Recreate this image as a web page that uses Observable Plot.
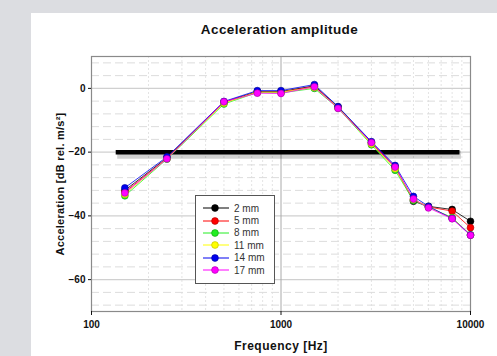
<!DOCTYPE html>
<html>
<head>
<meta charset="utf-8">
<script src="https://cdn.jsdelivr.net/npm/d3@7"></script>
<script src="https://cdn.jsdelivr.net/npm/@observablehq/plot@0.6"></script>
<style>
  html, body { margin: 0; padding: 0; }
  body { width: 497px; height: 356px; background: #dcdde1; position: relative; overflow: hidden;
         font-family: "Liberation Sans", Arial, sans-serif; }
  #panel { position: absolute; left: 31px; top: 13px; right: 0; bottom: 0; background: #fff; }
  #chart { position: absolute; left: 0; top: 0; }
  #title { position: absolute; left: 179.5px; width: 200px; top: 22px; text-align: center;
           font-weight: bold; font-size: 13.5px; letter-spacing: 0.4px; color: #111; }
  #legend { position: absolute; left: 195px; top: 195px; width: 80px; height: 89px;
            border: 1px solid #555; background: #fff; box-sizing: border-box; padding-top: 6px; }
  .item { height: 12.4px; display: flex; align-items: center; font-size: 10px; color: #333; }
  .item svg { margin-left: 7px; margin-right: 5px; }
</style>
</head>
<body>
<div id="panel"></div>
<div id="chart"></div>
<div id="title">Acceleration amplitude</div>
<div id="legend"></div>
<script>
const freqs = [150, 250, 500, 750, 1000, 1500, 2000, 3000, 4000, 5000, 6000, 8000, 10000];
const s2mm  = [-32.0, -21.8, -4.3, -1.0, -1.0, 0.8, -5.8, -17.0, -24.6, -35.4, -37.0, -38.0, -41.7];
const s5mm  = [-32.5, -22.0, -4.4, -1.2, -1.2, 0.6, -6.0, -17.2, -24.8, -35.0, -37.2, -38.5, -43.7];
const s8mm  = [-33.7, -22.2, -4.9, -1.3, -1.4, 0.0, -6.2, -17.7, -25.7, -35.2, -37.3, -40.5, -46.0];
const s11mm = [-33.2, -22.0, -4.6, -1.2, -1.2, 0.3, -6.0, -17.4, -25.2, -34.8, -37.2, -40.7, -46.0];
const s14mm = [-31.2, -21.5, -4.1, -0.7, -0.7, 1.2, -5.7, -16.7, -24.2, -33.9, -37.0, -40.8, -46.0];
const s17mm = [-32.8, -22.1, -4.2, -1.5, -1.6, 0.5, -6.3, -17.0, -24.7, -34.7, -37.5, -40.9, -46.1];
const seriesNames = ["2 mm", "5 mm", "8 mm", "11 mm", "14 mm", "17 mm"];
const seriesValues = [s2mm, s5mm, s8mm, s11mm, s14mm, s17mm];
const seriesColors = ["#000000", "#ff0000", "#22ee22", "#ffff00", "#0000ee", "#ff00ff"];
const seriesStrokes = ["#000000", "#aa0000", "#119911", "#bbbb00", "#000099", "#aa00aa"];
const xTicks = [100, 1000, 10000];
const yTicks = [-60, -40, -20, 0];
const threshold = -20;
const thresholdRange = [135, 8800];

const rows = [];
seriesNames.forEach((name, i) => {
  freqs.forEach((f, j) => rows.push({series: name, f, v: seriesValues[i][j]}));
});

const minorY = d3.range(-68, 10, 4).filter(d => d % 20 !== 0);
const minorX = [...d3.range(200, 1000, 100), ...d3.range(2000, 10000, 1000)];

const marks = [
  Plot.ruleX(minorX, {stroke: "#e4e4e4", strokeWidth: 1, strokeDasharray: "2,2"}),
  Plot.ruleY(minorY, {stroke: "#dcdcdc", strokeWidth: 1, strokeDasharray: "8,4"}),
  Plot.ruleY(yTicks, {stroke: "#d0d0d0", strokeWidth: 1.2}),
  Plot.ruleX([1000], {stroke: "#aaaaaa", strokeWidth: 1}),
  Plot.frame({stroke: "#8a8a8a", strokeWidth: 1.2}),
  Plot.ruleY([threshold], {x1: thresholdRange[0], x2: thresholdRange[1], stroke: "#000", strokeOpacity: 0.18, strokeWidth: 8, dy: 2.5, dx: 1.5}),
  Plot.ruleY([threshold], {x1: thresholdRange[0], x2: thresholdRange[1], stroke: "#000", strokeWidth: 4.5}),
];
seriesNames.forEach((name, i) => {
  const data = rows.filter(r => r.series === name);
  marks.push(Plot.line(data, {x: "f", y: "v", stroke: seriesColors[i], strokeWidth: 1, strokeOpacity: 0.8}));
});
seriesNames.forEach((name, i) => {
  const data = rows.filter(r => r.series === name);
  marks.push(Plot.dot(data, {x: "f", y: "v", r: 3.4, fill: seriesColors[i], stroke: seriesStrokes[i], strokeWidth: 0.6}));
});
marks.push(
  Plot.axisX(xTicks, {tickSize: 4, tickPadding: 5, tickFormat: d => String(d), fontWeight: "bold", fontSize: 10, label: "Frequency [Hz]", labelAnchor: "center", labelOffset: 38, labelArrow: "none"}),
  Plot.axisY(yTicks, {tickSize: 3, tickPadding: 3, fontWeight: "bold", fontSize: 10, label: "Acceleration [dB rel. m/s²]", labelAnchor: "center", labelOffset: 35, labelArrow: "none"})
);

const chart = Plot.plot({
  width: 497,
  height: 356,
  marginLeft: 91,
  marginRight: 27,
  marginTop: 56,
  marginBottom: 45,
  style: {background: "transparent", fontFamily: "Liberation Sans, Arial, sans-serif", fontSize: "10px", color: "#111", overflow: "visible"},
  x: {type: "log", domain: [100, 10000]},
  y: {domain: [-70, 10]},
  marks
});
document.getElementById("chart").appendChild(chart);
d3.select(chart).selectAll("[aria-label='x-axis label']")
  .style("font-weight", "bold").style("font-size", "12px").style("letter-spacing", "0.5px");
d3.select(chart).selectAll("[aria-label='y-axis label']")
  .style("font-weight", "bold").style("font-size", "11px").style("letter-spacing", "0.25px");

const legend = d3.select("#legend");
seriesNames.forEach((name, i) => {
  const item = legend.append("div").attr("class", "item");
  const s = item.append("svg").attr("width", 26).attr("height", 10);
  s.append("line").attr("x1", 0).attr("x2", 26).attr("y1", 5).attr("y2", 5).attr("stroke", seriesColors[i]).attr("stroke-width", 1);
  s.append("circle").attr("cx", 12).attr("cy", 5).attr("r", 3.4).attr("fill", seriesColors[i]).attr("stroke", seriesStrokes[i]).attr("stroke-width", 0.6);
  item.append("span").text(name);
});
</script>
</body>
</html>
